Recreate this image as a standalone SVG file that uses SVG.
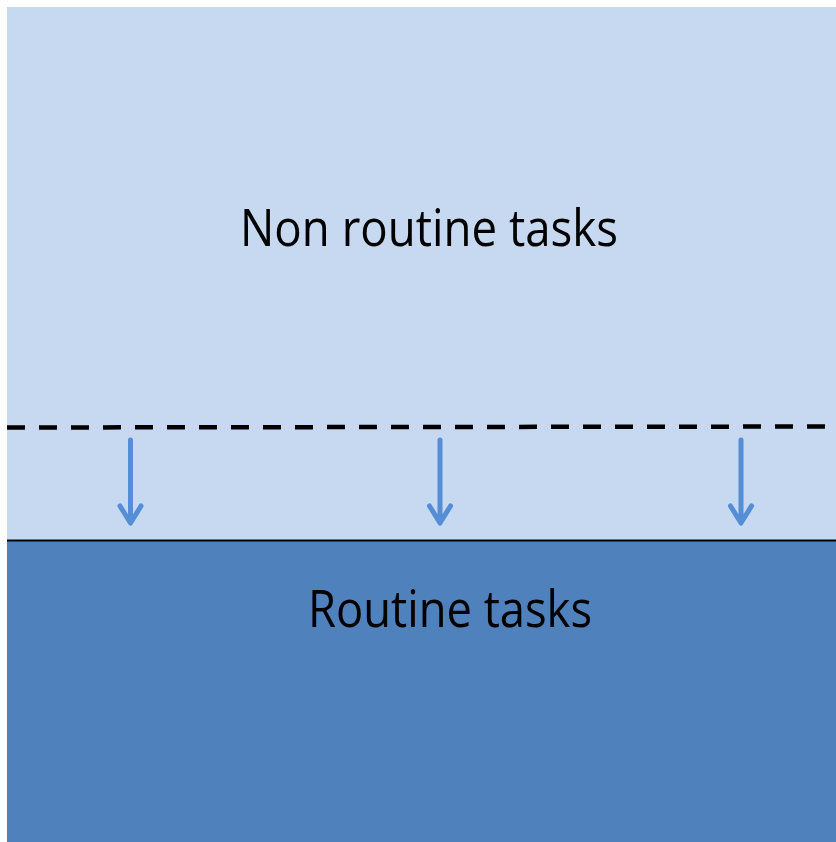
<svg xmlns="http://www.w3.org/2000/svg" width="836" height="842" viewBox="0 0 836 842">
<defs>
<style>
.lbl{font-family:"Open Sans","Liberation Sans",sans-serif;font-size:52px;fill:#000;text-anchor:middle}
.arr{stroke:#558ED5;stroke-width:5;fill:none;stroke-linecap:round;stroke-linejoin:round}
</style>
</defs>
<rect width="836" height="842" fill="#fff"/>
<g id="nonroutine">
<rect x="7" y="7" width="829" height="534" fill="#C6D9F1"/>
<text class="lbl" x="429" y="246" textLength="378" lengthAdjust="spacingAndGlyphs">Non routine tasks</text>
</g>
<g id="routine">
<rect x="7" y="541" width="829" height="301" fill="#4F81BD"/>
<text class="lbl" x="450" y="627" textLength="284" lengthAdjust="spacingAndGlyphs">Routine tasks</text>
</g>
<g id="connectors">
<line x1="7" y1="427.5" x2="836" y2="426.5" stroke="#000" stroke-width="4.5" stroke-dasharray="18 14"/>
<line x1="7" y1="540.5" x2="836" y2="540.5" stroke="#000" stroke-width="2"/>
<path class="arr" d="M130.5 440V522M120 506L130.5 523L141 506"/>
<path class="arr" d="M440 440V522M429.5 506L440 523L450.5 506"/>
<path class="arr" d="M741 440V522M730.5 506L741 523L751.5 506"/>
</g>
</svg>
